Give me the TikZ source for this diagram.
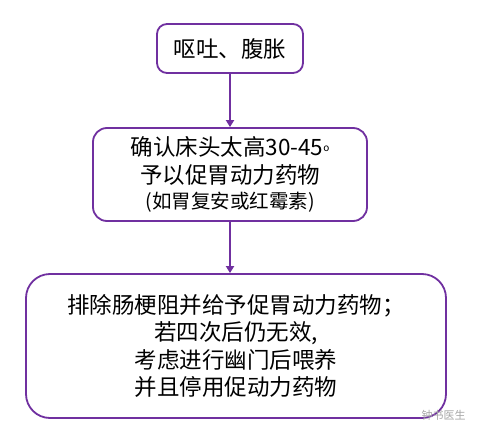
\documentclass[tikz,border=0pt]{standalone}
\usepackage{fontspec}
\newfontfamily\cjk{Noto Sans CJK SC}
\usetikzlibrary{arrows.meta}
\definecolor{pur}{HTML}{7030A0}
\tikzset{
  box/.style={draw=pur, line width=1.8pt, fill=white, align=center, inner sep=0pt},
  flow/.style={draw=pur, line width=2pt, -{Triangle[width=8pt,length=7pt]}}
}
\begin{document}
\begin{tikzpicture}[x=1pt,y=1pt]
\useasboundingbox (0,0) rectangle (478,437);
\node[box, rounded corners=10pt, minimum width=146pt, minimum height=49pt,
  font=\cjk\fontsize{22.5}{26}\selectfont] (b1) at (230,388.5) {呕吐、腹胀};
\node[box, rounded corners=14pt, minimum width=274pt, minimum height=93pt,
  font=\cjk\fontsize{22.5}{28}\selectfont] (b2) at (230,262.5)
  {确认床头太高30-45\raisebox{4.5pt}{\fontsize{10}{10}\selectfont o}\\
   予以促胃动力药物\\[-3pt]
   {\fontsize{19.5}{22}\selectfont (如胃复安或红霉素)}};
\node[box, rounded corners=24pt, minimum width=420pt, minimum height=144pt,
  font=\cjk\fontsize{22.5}{27.5}\selectfont] (b3) at (236,91)
  {排除肠梗阻并给予促胃动力药物；\\
   若四次后仍无效,\\
   考虑进行幽门后喂养\\
   并且停用促动力药物};
\draw[flow] (b1.south) -- (b2.north);
\draw[flow] (b2.south) -- (b2.south |- b3.north);
\node[font=\cjk\fontsize{11}{11}\selectfont, text=black!35, anchor=west] (wm) at (418,22) {钟书医生};
\end{tikzpicture}
\end{document}
